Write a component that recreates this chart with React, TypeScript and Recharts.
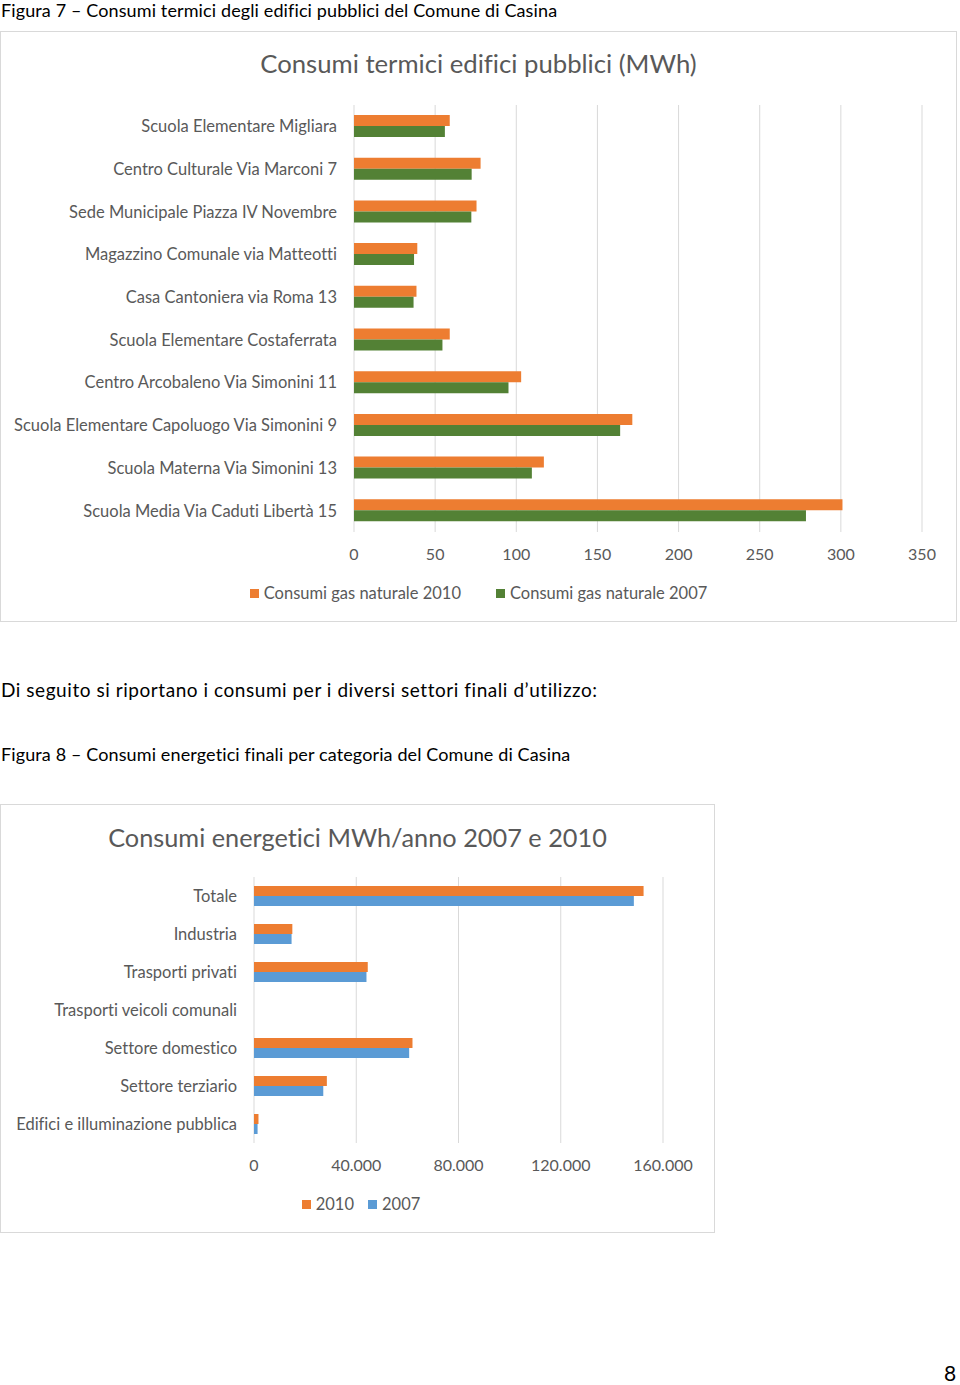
import React from 'react';
import { BarChart, Bar, XAxis, YAxis, CartesianGrid } from 'recharts';

const buildings = [
  'Scuola Elementare Migliara',
  'Centro Culturale Via Marconi 7',
  'Sede Municipale Piazza IV Novembre',
  'Magazzino Comunale via Matteotti',
  'Casa Cantoniera via Roma 13',
  'Scuola Elementare Costaferrata',
  'Centro Arcobaleno Via Simonini 11',
  'Scuola Elementare Capoluogo Via Simonini 9',
  'Scuola Materna Via Simonini 13',
  'Scuola Media Via Caduti Libertà 15',
];
const gas2010 = [59, 78, 75.5, 39, 38.5, 59, 103, 171.5, 117, 301];
const gas2007 = [56, 72.5, 72.3, 37, 36.7, 54.5, 95.2, 164, 109.6, 278.5];
const ticks1 = [0, 50, 100, 150, 200, 250, 300, 350];
const series1 = ['Consumi gas naturale 2010', 'Consumi gas naturale 2007'];

const sectors = [
  'Totale',
  'Industria',
  'Trasporti privati',
  'Trasporti veicoli comunali',
  'Settore domestico',
  'Settore terziario',
  'Edifici e illuminazione pubblica',
];
const en2010 = [152400, 15000, 44500, 0, 62000, 28500, 1750];
const en2007 = [148600, 14700, 44000, 0, 60700, 27100, 1400];
const ticks2 = [0, 40000, 80000, 120000, 160000];
const series2 = ['2010', '2007'];

const data1 = buildings.map((name, i) => ({ name, g2010: gas2010[i], g2007: gas2007[i] }));
const data2 = sectors.map((name, i) => ({ name, e2010: en2010[i], e2007: en2007[i] }));

const FONT = 'Lato, "Open Sans", sans-serif';
const GREY = '#595959';
const ORANGE = '#ED7D31';
const GREEN = '#538135';
const BLUE = '#5B9BD5';

const fmtIt = (v: number) => String(v).replace(/\B(?=(\d{3})+(?!\d))/g, '.');

function HtmlLegend({ names, colors, gap, top }: { names: string[]; colors: string[]; gap: number; top: number }) {
  return (
    <div style={{ position: 'absolute', left: 0, width: '100%', top, display: 'flex', justifyContent: 'center', gap, fontFamily: FONT, fontSize: 16.5, color: GREY, lineHeight: '20px' }}>
      {names.map((n, i) => (
        <div key={n} style={{ display: 'flex', alignItems: 'center' }}>
          <span style={{ width: 9, height: 9, background: colors[i], display: 'inline-block', marginRight: 5 }} />
          <span>{n}</span>
        </div>
      ))}
    </div>
  );
}

const textStyle: React.CSSProperties = {
  position: 'absolute',
  fontFamily: FONT,
  color: '#000',
  fontSize: 18,
  whiteSpace: 'nowrap',
  lineHeight: '20px',
};

const tickStyle = { fill: GREY, fontSize: 16, fontFamily: FONT };
const catStyle = { fill: GREY, fontSize: 16.5, fontFamily: FONT };

export default function App() {
  return (
    <div style={{ position: 'absolute', left: 0, top: 0, width: 960, height: 1385, background: '#fff', overflow: 'hidden', fontVariantLigatures: 'none' }}>
      <div style={{ ...textStyle, left: 1, top: 1, lineHeight: '18px', letterSpacing: 0.12 }}>Figura 7 – Consumi termici degli edifici pubblici del Comune di Casina</div>

      <div style={{ position: 'absolute', left: 0, top: 31, width: 955, height: 589, border: '1px solid #d9d9d9' }}>
        <div style={{ position: 'absolute', left: 0, width: '100%', top: 15, textAlign: 'center', fontFamily: FONT, fontSize: 25.7, color: GREY, lineHeight: '32px' }}>
          Consumi termici edifici pubblici (MWh)
        </div>
        <BarChart
          width={955}
          height={589}
          data={data1}
          layout="vertical"
          margin={{ top: 73, right: 34, bottom: 59, left: 0 }}
          barGap={0}
          barSize={11}
        >
          <CartesianGrid horizontal={false} stroke="#d9d9d9" />
          <XAxis
            type="number"
            domain={[0, 350]}
            ticks={ticks1}
            axisLine={false}
            tickLine={false}
            tickSize={0}
            tickMargin={17}
            height={30}
            tick={tickStyle}
          />
          <YAxis
            type="category"
            dataKey="name"
            width={353}
            axisLine={false}
            tickLine={false}
            tickSize={0}
            tickMargin={17}
            interval={0}
            tick={catStyle}
          />
          <Bar dataKey="g2010" name={series1[0]} fill={ORANGE} isAnimationActive={false} />
          <Bar dataKey="g2007" name={series1[1]} fill={GREEN} isAnimationActive={false} />
        </BarChart>
        <HtmlLegend names={series1} colors={[ORANGE, GREEN]} gap={35} top={551} />
      </div>

      <div style={{ ...textStyle, left: 1, top: 680, fontSize: 19, letterSpacing: 0.55 }}>Di seguito si riportano i consumi per i diversi settori finali d’utilizzo:</div>
      <div style={{ ...textStyle, left: 1, top: 744, letterSpacing: 0.12 }}>Figura 8 – Consumi energetici finali per categoria del Comune di Casina</div>

      <div style={{ position: 'absolute', left: 0, top: 804, width: 713, height: 427, border: '1px solid #d9d9d9' }}>
        <div style={{ position: 'absolute', left: 0, width: '100%', top: 16, textAlign: 'center', fontFamily: FONT, fontSize: 25.3, color: GREY, lineHeight: '32px' }}>
          Consumi energetici MWh/anno 2007 e 2010
        </div>
        <BarChart
          width={713}
          height={427}
          data={data2}
          layout="vertical"
          margin={{ top: 72, right: 51, bottom: 59, left: 0 }}
          barGap={0}
          barSize={10}
        >
          <CartesianGrid horizontal={false} stroke="#d9d9d9" />
          <XAxis
            type="number"
            domain={[0, 160000]}
            ticks={ticks2}
            tickFormatter={fmtIt}
            axisLine={false}
            tickLine={false}
            tickSize={0}
            tickMargin={17}
            height={30}
            tick={tickStyle}
          />
          <YAxis
            type="category"
            dataKey="name"
            width={253}
            axisLine={false}
            tickLine={false}
            tickSize={0}
            tickMargin={17}
            interval={0}
            tick={catStyle}
          />
          <Bar dataKey="e2010" name={series2[0]} fill={ORANGE} isAnimationActive={false} />
          <Bar dataKey="e2007" name={series2[1]} fill={BLUE} isAnimationActive={false} />
        </BarChart>
        <div style={{ position: 'absolute', left: 0, width: 720, top: 0 }}>
          <HtmlLegend names={series2} colors={[ORANGE, BLUE]} gap={14} top={389} />
        </div>
      </div>

      <div style={{ ...textStyle, left: 944, top: 1363, fontSize: 21 }}>8</div>
    </div>
  );
}
